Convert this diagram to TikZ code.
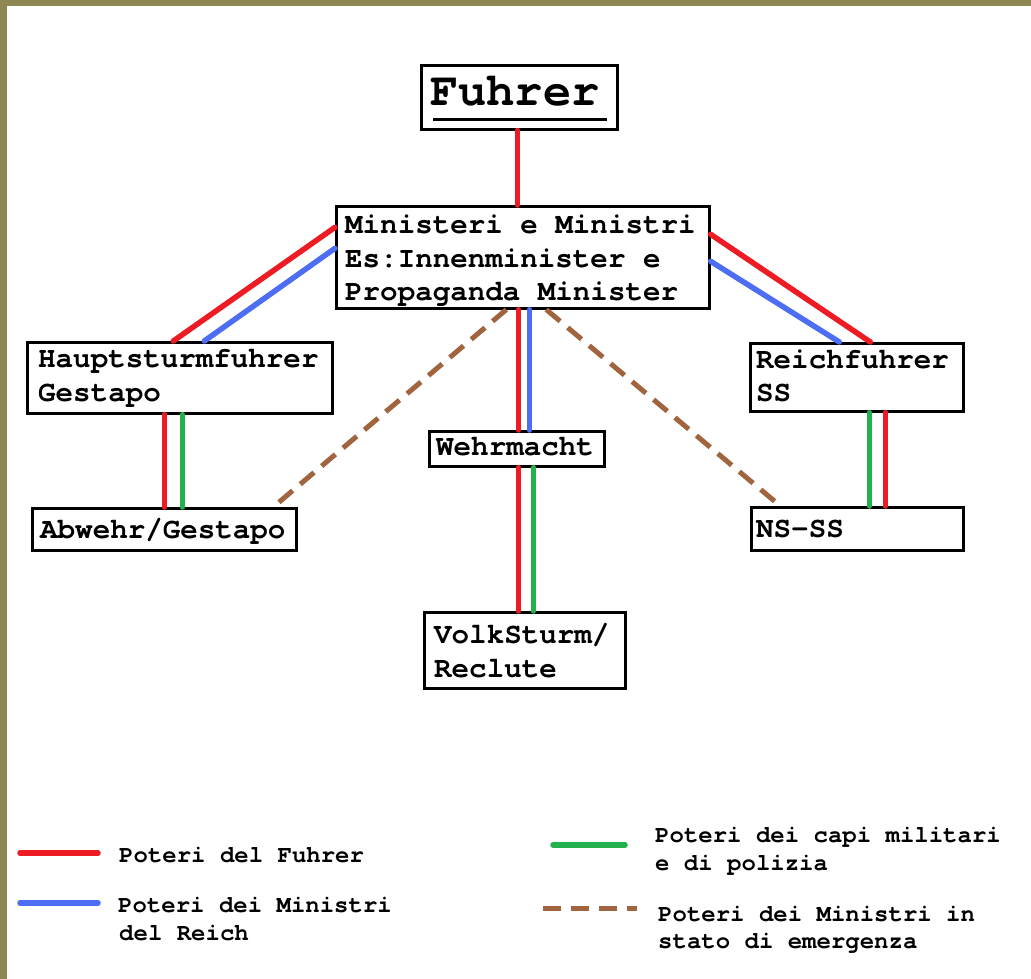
\documentclass[tikz,border=0pt]{standalone}
\usepackage{fontspec}
\setmainfont{TeX Gyre Cursor}
\definecolor{pred}{HTML}{ED1C24}
\definecolor{pblue}{HTML}{4D6DF3}
\definecolor{pgreen}{HTML}{22B14C}
\definecolor{pbrown}{HTML}{A0643F}
\definecolor{pframe}{HTML}{8F8751}
\tikzset{
  box/.style={draw=black, line width=2.6pt, inner sep=0pt, anchor=north west, fill=white},
  txt/.style={anchor=base west, inner sep=0pt, font=\bfseries\fontsize{29.2}{34}\selectfont},
  ltxt/.style={anchor=base west, inner sep=0pt, font=\bfseries\fontsize{24}{28}\selectfont},
  rl/.style={draw=pred, line width=5.5pt, line cap=round},
  bl/.style={draw=pblue, line width=5.5pt, line cap=round},
  gl/.style={draw=pgreen, line width=5.5pt, line cap=round},
  dl/.style={draw=pbrown, line width=5pt, dash pattern=on 18pt off 10pt},
}
\begin{document}
\begin{tikzpicture}[x=1pt,y=-1pt]
\useasboundingbox (0,0) rectangle (1031,979);
\fill[white] (0,0) rectangle (1031,979);
\fill[pframe] (0,0) rectangle (1031,6);
\fill[pframe] (0,0) rectangle (7,979);

% boxes
\node[box, minimum width=196, minimum height=64] (fuh) at (420,64) {};
\node[box, minimum width=373, minimum height=102] (min) at (335,205) {};
\node[box, minimum width=305, minimum height=71] (hau) at (26,341) {};
\node[box, minimum width=264, minimum height=42] (abw) at (31,507) {};
\node[box, minimum width=213, minimum height=68] (rei) at (749,342) {};
\node[box, minimum width=212, minimum height=43] (nss) at (750,506) {};
\node[box, minimum width=175, minimum height=35] (weh) at (428,430) {};
\node[box, minimum width=201, minimum height=76] (vol) at (423,611) {};

% texts
\node[anchor=base west, inner sep=0pt, font=\bfseries\fontsize{47}{50}\selectfont] (fuht) at (430,106) {Fuhrer};
\draw[line width=3pt] ([xshift=13,yshift=-14]fuh.south west |- fuht.base) coordinate (u1) -- ([xshift=174]u1);
\node[txt] (min1) at (345,233) {Ministeri e Ministri};
\node[txt] (min2) at (345,267) {Es:Innenminister e};
\node[txt] (min3) at (345,300) {Propaganda Minister};
\node[txt] (hau1) at (38,367) {Hauptsturmfuhrer};
\node[txt] (hau2) at (38,401) {Gestapo};
\node[txt] (abwt) at (40,538) {Abwehr/Gestapo};
\node[txt] (weht) at (436,455) {Wehrmacht};
\node[txt] (vol1) at (434,643) {VolkSturm/};
\node[txt] (vol2) at (434,677) {Reclute};
\node[txt] (rei1) at (756,368) {Reichfuhrer};
\node[txt] (rei2) at (756,401) {SS};
\node[txt] (nsst) at (756,537) {NS-SS};

% connectors
\draw[rl] ([xshift=-2]fuh.south) -- ([xshift=-5.5]min.north);
\draw[rl] ([xshift=-6.5]hau.north) -- ([yshift=30]min.west);
\draw[bl] ([xshift=24.5]hau.north) -- ([yshift=9]min.west);
\draw[rl] ([yshift=23]min.east) -- ([xshift=13.5]rei.north);
\draw[bl] ([yshift=-4]min.east) -- ([xshift=-17.5]rei.north);
\draw[rl] ([xshift=-15.5]hau.south) -- (abw.north);
\draw[gl] ([xshift=2.5]hau.south) -- ([xshift=18]abw.north);
\draw[rl] ([xshift=-4.5]min.south) -- ([xshift=1.5]weh.north);
\draw[bl] ([xshift=6.5]min.south) -- ([xshift=12.5]weh.north);
\draw[rl] ([xshift=1.5]weh.south) -- ([xshift=-6.5]vol.north);
\draw[gl] ([xshift=16.5]weh.south) -- ([xshift=8.5]vol.north);
\draw[gl] ([xshift=12.5]rei.south) -- ([xshift=12]nss.north);
\draw[rl] ([xshift=28.5]rei.south) -- ([xshift=28]nss.north);
\draw[dl] ([xshift=-16.5]min.south) -- ([xshift=109]abw.north);
\draw[dl] ([xshift=23.5]min.south) -- ([xshift=-77]nss.north);

% legend
\coordinate (lr1) at (20,853); \coordinate (lr2) at (98,853);
\coordinate (lb1) at (20,903); \coordinate (lb2) at (98,903);
\coordinate (lg1) at (553,845); \coordinate (lg2) at (625,845);
\coordinate (ld1) at (543,908); \coordinate (ld2) at (637,908);
\draw[rl] (lr1) -- (lr2);
\draw[bl] (lb1) -- (lb2);
\draw[gl] (lg1) -- (lg2);
\draw[dl] (ld1) -- (ld2);
\node[ltxt] (t1) at (119,862) {Poteri del Fuhrer};
\node[ltxt] (t2) at (118,912) {Poteri dei Ministri};
\node[ltxt] (t3) at (119,940) {del Reich};
\node[ltxt] (t4) at (655,842) {Poteri dei capi militari};
\node[ltxt] (t5) at (655,870) {e di polizia};
\node[ltxt] (t6) at (658,921) {Poteri dei Ministri in};
\node[ltxt] (t7) at (658,948) {stato di emergenza};
\end{tikzpicture}
\end{document}
